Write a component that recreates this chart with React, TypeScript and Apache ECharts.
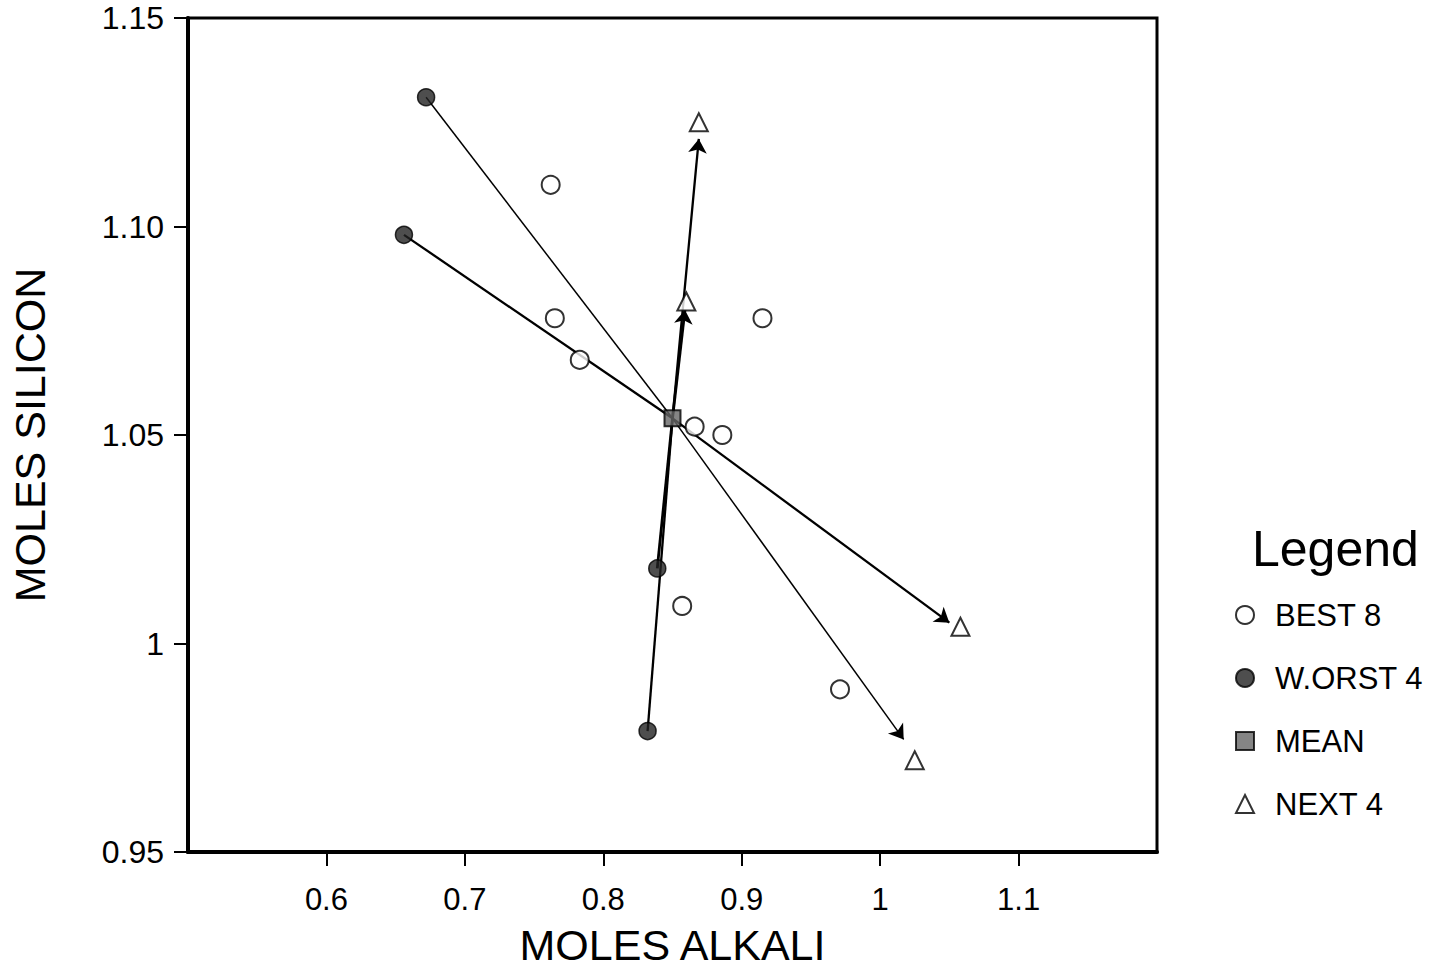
import React, { useEffect, useRef } from "react";
import * as echarts from "echarts";

const best8: [number, number][] = [
  [0.762, 1.110],
  [0.765, 1.078],
  [0.783, 1.068],
  [0.915, 1.078],
  [0.866, 1.052],
  [0.886, 1.050],
  [0.857, 1.009],
  [0.971, 0.989],
];
const worst4: [number, number][] = [
  [0.672, 1.131],
  [0.656, 1.098],
  [0.839, 1.018],
  [0.832, 0.979],
];
const mean: [number, number][] = [[0.85, 1.054]];
const next4: [number, number][] = [
  [0.869, 1.125],
  [0.860, 1.082],
  [1.058, 1.004],
  [1.025, 0.972],
];
// arrow tips, one per worst point (reflected through the mean)
const arrowTips: [number, number][] = [
  [1.017, 0.977],
  [1.050, 1.005],
  [0.859, 1.080],
  [0.869, 1.121],
];
const lineWidths = [1.5, 2.3, 2.8, 2.3];

const xTicks = [0.6, 0.7, 0.8, 0.9, 1.0, 1.1];
const legendNames = ["BEST 8", "W.ORST 4", "MEAN", "NEXT 4"];

const FONT = "'Liberation Sans', Arial, sans-serif";

export default function App() {
  const ref = useRef<HTMLDivElement>(null);
  useEffect(() => {
    if (!ref.current) return;
    const chart = echarts.init(ref.current, null, { renderer: "svg" });
    const toMean = worst4.map((w, i) => ({
      coords: [w, mean[0]],
      lineStyle: { width: lineWidths[i] },
    }));
    const fromMean = worst4.map((_, i) => ({
      coords: [mean[0], arrowTips[i]],
      lineStyle: { width: lineWidths[i] },
    }));
    chart.setOption({
      animation: false,
      backgroundColor: "#fff",
      grid: {
        left: 188,
        right: 283,
        top: 18,
        bottom: 118,
        show: true,
        borderColor: "#000",
        borderWidth: 3,
        outerBoundsMode: "none",
        containLabel: false,
      },
      xAxis: {
        type: "value",
        min: 0.5,
        max: 1.2,
        interval: 0.1,
        name: "MOLES ALKALI",
        nameLocation: "middle",
        nameGap: 71,
        nameMoveOverlap: false,
        nameTextStyle: { fontFamily: FONT, fontSize: 43, lineHeight: 44, color: "#000" },
        splitLine: { show: false },
        axisLine: { show: true, lineStyle: { color: "#000", width: 4 } },
        axisTick: {
          show: true,
          length: 14,
          inside: false,
          customValues: xTicks,
          lineStyle: { color: "#000", width: 2 },
        },
        axisLabel: {
          customValues: xTicks,
          margin: 31,
          fontFamily: FONT,
          fontSize: 31,
          lineHeight: 32,
          color: "#000",
          formatter: (v: number) => String(Math.round(v * 10) / 10),
        },
      },
      yAxis: {
        type: "value",
        min: 0.95,
        max: 1.15,
        interval: 0.05,
        name: "MOLES SILICON",
        nameLocation: "middle",
        nameGap: 136,
        nameMoveOverlap: false,
        nameTextStyle: { fontFamily: FONT, fontSize: 43, lineHeight: 44, color: "#000" },
        splitLine: { show: false },
        axisLine: { show: true, lineStyle: { color: "#000", width: 4 } },
        axisTick: { show: true, length: 14, lineStyle: { color: "#000", width: 2 } },
        axisLabel: {
          margin: 24,
          fontFamily: FONT,
          fontSize: 32,
          lineHeight: 32,
          color: "#000",
          formatter: (v: number) => {
            const r = Math.round(v * 100) / 100;
            return Math.abs(r - 1) < 1e-9 ? "1" : r.toFixed(2);
          },
        },
      },
      legend: {
        data: legendNames,
        orient: "vertical",
        left: 1235,
        top: 599,
        padding: 0,
        itemGap: 31,
        itemWidth: 18,
        itemHeight: 18,
        textStyle: { fontFamily: FONT, fontSize: 31, lineHeight: 32, color: "#000", padding: [0, 0, 0, 16] },
      },
      graphic: [
        {
          type: "text",
          left: 1252,
          top: 524,
          style: { text: "Legend", fontFamily: FONT, fontSize: 50, fill: "#000" },
        },
      ],
      series: [
        {
          type: "lines",
          coordinateSystem: "cartesian2d",
          symbol: ["none", "none"],
          lineStyle: { color: "#000", width: 2, opacity: 1 },
          data: toMean,
          z: 2,
        },
        {
          type: "lines",
          coordinateSystem: "cartesian2d",
          symbol: ["none", "arrow"],
          symbolSize: 14,
          lineStyle: { color: "#000", width: 2, opacity: 1 },
          data: fromMean,
          z: 2,
        },
        {
          name: "BEST 8",
          type: "scatter",
          symbol: "circle",
          symbolSize: 18,
          itemStyle: { color: "#fff", borderColor: "#000", borderWidth: 2 },
          data: best8,
          z: 3,
        },
        {
          name: "W.ORST 4",
          type: "scatter",
          symbol: "circle",
          symbolSize: 17,
          itemStyle: { color: "#222", borderColor: "#000", borderWidth: 1.5 },
          data: worst4,
          z: 3,
        },
        {
          name: "MEAN",
          type: "scatter",
          symbol: "rect",
          symbolSize: 16,
          itemStyle: { color: "#666", borderColor: "#000", borderWidth: 2 },
          data: mean,
          z: 4,
        },
        {
          name: "NEXT 4",
          type: "scatter",
          symbol: "triangle",
          symbolSize: 18,
          itemStyle: { color: "#fff", borderColor: "#000", borderWidth: 2 },
          data: next4,
          z: 3,
        },
      ],
    });
    return () => chart.dispose();
  }, []);
  return (
    <div
      ref={ref}
      style={{ position: "fixed", left: 0, top: 0, width: 1440, height: 970 }}
    />
  );
}
